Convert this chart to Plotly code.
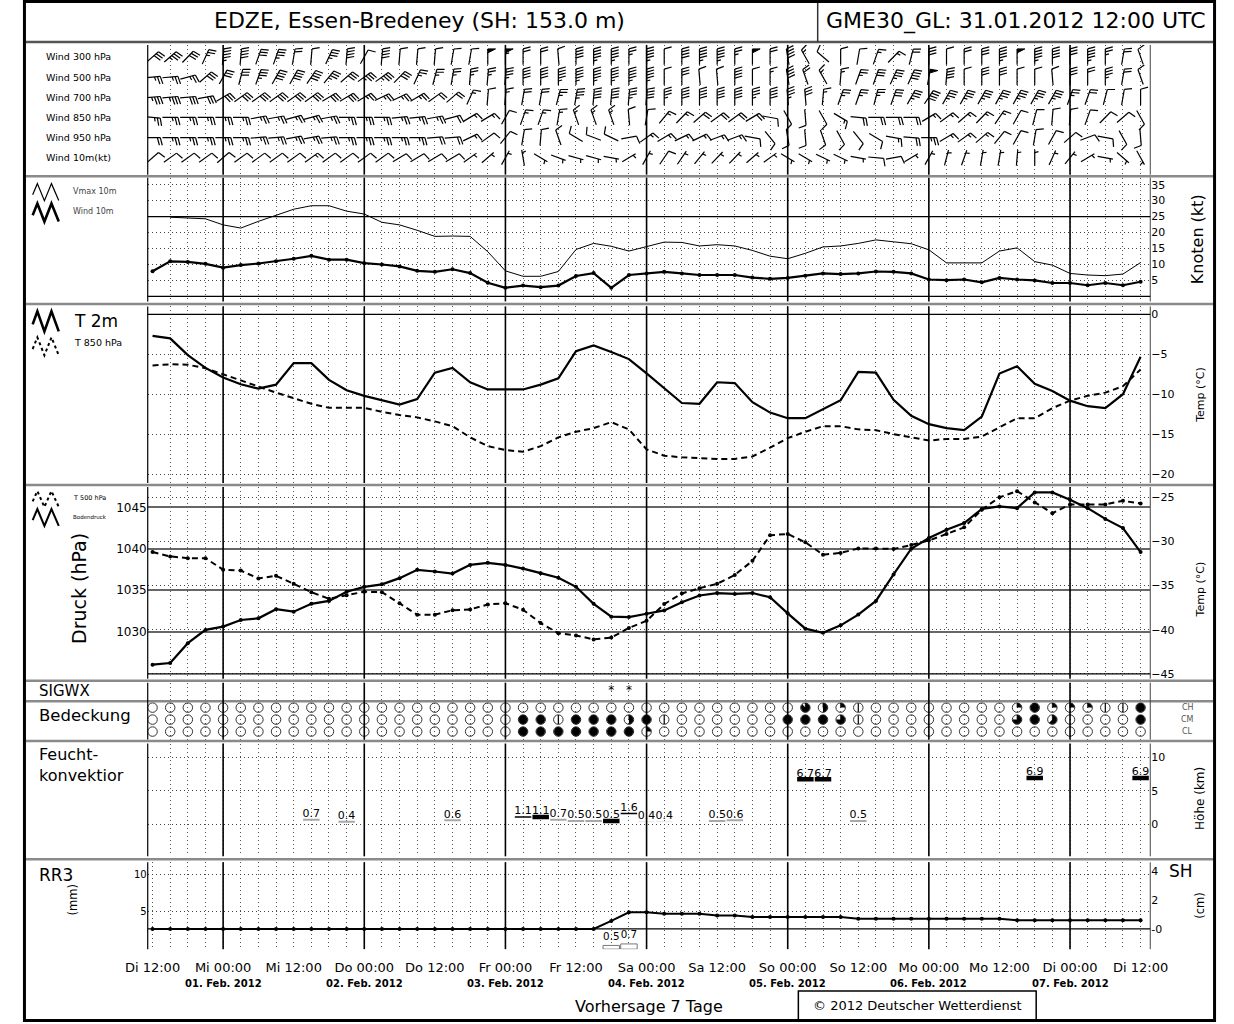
import math

import plotly.graph_objects as go

W, H = 1234, 1024
FONT = "DejaVu Sans"

# forecast steps: hours after Di 31.01.2012 12:00 UTC
hours = [0, 3, 6, 9, 12, 15, 18, 21, 24, 27, 30, 33, 36, 39, 42, 45, 48, 51, 54, 57,
         60, 63, 66, 69, 72, 75, 78, 81, 84, 87, 90, 93, 96, 99, 102, 105, 108, 111,
         114, 117, 120, 123, 126, 129, 132, 135, 138, 141, 144, 147, 150, 153, 156,
         159, 162, 165, 168]
tick_hours = [0, 12, 24, 36, 48, 60, 72, 84, 96, 108, 120, 132, 144, 156, 168]
tick_text = ["Di 12:00", "Mi 00:00", "Mi 12:00", "Do 00:00", "Do 12:00", "Fr 00:00",
             "Fr 12:00", "Sa 00:00", "Sa 12:00", "So 00:00", "So 12:00", "Mo 00:00",
             "Mo 12:00", "Di 00:00", "Di 12:00"]
midnight_hours = [12, 36, 60, 84, 108, 132, 156]
date_text = ["01. Feb. 2012", "02. Feb. 2012", "03. Feb. 2012", "04. Feb. 2012",
             "05. Feb. 2012", "06. Feb. 2012", "07. Feb. 2012"]

# wind barbs (direction deg, speed kt)
dir300 = [50, 50, 45, 25, 5, 5, 20, 20, 10, 5, 25, 5, 30, 5, 5, 5, 5, 10, 10, 0,
          0, 0, 0, 355, 0, 0, 0, 0, 0, 0, 0, 0, 0, 0, 0, 0, 350, 330, 310, 0,
          10, 20, 45, 15, 0, 0, 0, 0, 0, 0, 0, 0, 0, 0, 0, 10, 340]
spd300 = [30, 35, 30, 25, 45, 40, 30, 35, 20, 10, 35, 40, 10, 40, 10, 10, 10, 10, 10, 50,
          55, 20, 20, 10, 40, 45, 45, 25, 45, 10, 40, 45, 45, 25, 50, 20, 40, 15, 10, 10,
          10, 15, 15, 20, 30, 10, 20, 30, 45, 50, 45, 40, 30, 45, 25, 20, 10]
dir500 = [85, 85, 75, 50, 30, 15, 20, 30, 30, 35, 40, 50, 55, 55, 45, 25, 15, 10, 5, 5,
          5, 0, 0, 0, 0, 0, 0, 0, 0, 0, 0, 355, 355, 0, 0, 0, 350, 340, 330, 5,
          20, 20, 25, 25, 10, 5, 0, 0, 0, 0, 0, 355, 0, 0, 0, 10, 340]
spd500 = [25, 25, 25, 30, 30, 30, 35, 40, 40, 40, 35, 30, 35, 35, 30, 25, 25, 25, 25, 25,
          35, 40, 40, 45, 45, 45, 45, 45, 45, 10, 30, 10, 10, 40, 10, 15, 40, 20, 15, 15,
          25, 30, 35, 40, 50, 40, 10, 30, 30, 10, 10, 10, 30, 20, 35, 20, 10]
dir700 = [85, 85, 85, 80, 60, 55, 55, 55, 55, 55, 60, 60, 60, 65, 65, 60, 55, 50, 25, 5,
          5, 10, 10, 15, 10, 5, 5, 5, 5, 0, 0, 0, 0, 0, 0, 0, 355, 355, 5, 20,
          20, 15, 20, 30, 35, 30, 30, 30, 30, 30, 30, 30, 20, 20, 15, 10, 0]
spd700 = [35, 35, 30, 30, 30, 30, 30, 30, 30, 30, 30, 30, 25, 25, 25, 25, 20, 20, 15, 10,
          15, 20, 20, 25, 35, 40, 40, 35, 40, 35, 40, 40, 40, 40, 35, 40, 35, 30, 15, 25,
          25, 25, 30, 35, 40, 35, 35, 35, 35, 35, 35, 35, 25, 20, 10, 10, 10]
dir850 = [95, 90, 90, 90, 90, 90, 80, 80, 75, 75, 80, 90, 90, 90, 85, 85, 80, 75, 60, 60,
          30, 20, 20, 10, 340, 340, 340, 355, 10, 40, 45, 50, 55, 55, 60, 100, 150, 175, 150, 120,
          95, 90, 90, 90, 60, 55, 50, 45, 35, 30, 15, 5, 5, 20, 45, 50, 150]
spd850 = [25, 25, 25, 25, 25, 25, 25, 25, 25, 25, 25, 25, 25, 25, 25, 25, 25, 20, 15, 15,
          10, 15, 15, 15, 15, 15, 15, 10, 10, 15, 15, 20, 20, 20, 20, 10, 10, 10, 10, 15,
          20, 20, 20, 20, 15, 15, 15, 15, 15, 10, 10, 10, 10, 10, 10, 10, 10]
dir950 = [90, 90, 90, 90, 90, 90, 85, 85, 80, 80, 85, 90, 90, 90, 90, 90, 85, 85, 65, 55,
          40, 10, 5, 340, 300, 290, 295, 80, 55, 60, 65, 65, 70, 70, 100, 140, 170, 175, 160, 150,
          140, 120, 100, 95, 90, 60, 55, 50, 40, 30, 10, 30, 50, 70, 100, 150, 175]
spd950 = [20, 25, 25, 25, 25, 25, 25, 25, 25, 25, 25, 25, 25, 25, 25, 25, 20, 20, 15, 10,
          10, 10, 10, 10, 10, 10, 10, 10, 15, 15, 15, 15, 15, 15, 10, 10, 10, 10, 10, 10,
          10, 10, 15, 20, 25, 15, 15, 15, 10, 10, 10, 10, 10, 10, 10, 10, 10]
dir10m = [50, 55, 55, 55, 50, 55, 55, 55, 55, 55, 55, 55, 55, 55, 60, 60, 60, 60, 55, 50,
          30, 350, 120, 110, 105, 105, 100, 60, 30, 35, 35, 40, 45, 45, 50, 55, 120, 120, 115, 115,
          100, 95, 80, 60, 30, 15, 20, 10, 10, 5, 0, 25, 40, 60, 100, 130, 150]

# 10 m wind and gusts (kt)
wind10 = [7.9, 11.0, 10.8, 10.2, 9.0, 9.8, 10.3, 11.0, 11.8, 12.7, 11.5, 11.5, 10.4, 10.0,
          9.4, 8.0, 7.7, 8.5, 7.3, 4.3, 2.7, 3.4, 2.9, 3.4, 6.4, 7.3, 2.7, 6.7, 7.2, 7.7,
          7.2, 6.7, 6.7, 6.7, 5.9, 5.5, 5.8, 6.5, 7.2, 7.0, 7.2, 7.8, 7.7, 7.2, 5.3, 5.1,
          5.3, 4.4, 5.8, 5.3, 5.0, 4.2, 4.2, 3.5, 4.2, 3.5, 4.6]
vmax10 = [None, 24.8, 24.5, 24.3, 22.4, 21.4, 23.5, 25.3, 27.3, 28.4, 28.4, 26.7, 25.8,
          23.2, 22.4, 20.7, 18.8, 18.9, 18.8, 14.0, 8.0, 6.3, 6.3, 7.8, 14.7, 16.6, 15.7,
          14.2, 15.6, 17.0, 16.9, 15.8, 16.2, 15.8, 14.4, 12.6, 11.8, 13.5, 15.5, 15.8,
          16.6, 17.7, 17.1, 16.5, 14.6, 10.5, 10.5, 10.5, 14.2, 15.2, 10.9, 9.8, 7.2, 6.7,
          6.5, 7.0, 10.6]

# temperatures (deg C)
t2m = [-2.7, -3.0, -5.1, -6.7, -7.9, -8.75, -9.3, -8.8, -6.1, -6.1, -8.2, -9.5, -10.2,
       -10.75, -11.3, -10.6, -7.3, -6.7, -8.5, -9.4, -9.4, -9.4, -8.8, -8.0, -4.6, -3.9,
       -4.7, -5.6, -7.4, -9.25, -11.1, -11.2, -8.5, -8.6, -11.0, -12.3, -13.0, -13.0,
       -11.9, -10.75, -7.2, -7.3, -10.7, -12.7, -13.75, -14.25, -14.5, -12.8, -7.4, -6.5,
       -8.7, -9.6, -10.8, -11.5, -11.75, -10.0, -5.3]
t850 = [-6.4, -6.25, -6.3, -6.75, -7.5, -8.3, -9.0, -9.8, -10.5, -11.2, -11.7, -11.7,
        -11.7, -12.2, -12.6, -12.9, -13.4, -14.0, -15.4, -16.5, -17.0, -17.2, -16.5, -15.4,
        -14.7, -14.25, -13.5, -14.4, -16.9, -17.7, -17.9, -18.0, -18.1, -18.1, -17.8,
        -16.7, -15.5, -14.7, -14.0, -14.0, -14.4, -14.5, -15.0, -15.4, -15.8, -15.6, -15.6,
        -15.3, -14.1, -13.0, -13.0, -11.75, -10.8, -10.2, -9.8, -9.0, -6.9]

# surface pressure (hPa) and 500 hPa temperature (deg C)
pres = [1026.0, 1026.2, 1028.6, 1030.2, 1030.6, 1031.4, 1031.6, 1032.7, 1032.4, 1033.35,
        1033.7, 1034.8, 1035.4, 1035.7, 1036.45, 1037.45, 1037.25, 1037.0, 1038.05, 1038.3,
        1038.05, 1037.6, 1037.05, 1036.5, 1035.4, 1033.35, 1031.8, 1031.75, 1032.15,
        1032.55, 1033.55, 1034.35, 1034.65, 1034.55, 1034.65, 1034.15, 1032.2, 1030.35,
        1029.85, 1030.75, 1032.05, 1033.7, 1036.9, 1040.0, 1041.3, 1042.3, 1043.1, 1044.8,
        1045.1, 1044.9, 1046.8, 1046.8, 1045.9, 1044.9, 1043.6, 1042.5, 1039.6]
t500 = [-31.2, -31.7, -31.9, -31.9, -33.2, -33.3, -34.2, -33.9, -34.8, -35.75, -36.5,
        -36.1, -35.7, -35.75, -37.0, -38.3, -38.3, -37.8, -37.7, -37.15, -37.0, -37.75,
        -39.25, -40.4, -40.65, -41.1, -40.9, -39.8, -39.0, -37.1, -35.9, -35.3, -34.8,
        -33.8, -32.2, -29.3, -29.15, -30.1, -31.5, -31.3, -30.8, -30.8, -30.85, -30.4,
        -29.9, -29.15, -28.4, -26.4, -25.0, -24.3, -25.6, -26.8, -25.8, -25.8, -25.8,
        -25.4, -25.7]

# significant weather and cloud cover (octas) for high / middle / low clouds
sigwx_steps = [26, 27]
sigwx_symbols = ["*", "*"]
cover_ch = [0, 0, 0, 0, 0, 0, 0, 0, 0, 0, 0, 0, 0, 0, 0, 0, 0, 0, 0, 0,
            0, 0, 0, 0, 0, 0, 0, 0, 0, 0, 0, 0, 0, 0, 0, 0, 0, 7, 4, 2,
            1, 0, 0, 0, 0, 0, 0, 0, 0, 2, 8, 2, 2, 2, 1, 1, 8]
cover_cm = [0, 0, 0, 0, 0, 0, 0, 0, 0, 0, 0, 0, 0, 0, 0, 0, 0, 0, 0, 0,
            0, 8, 8, 1, 8, 8, 8, 4, 8, 1, 0, 0, 0, 0, 0, 0, 8, 8, 8, 6,
            1, 0, 0, 0, 0, 0, 0, 0, 0, 6, 8, 5, 0, 0, 0, 0, 8]
cover_cl = [0, 0, 0, 0, 0, 0, 0, 0, 0, 0, 0, 0, 0, 0, 0, 0, 0, 0, 0, 0,
            0, 8, 8, 8, 8, 8, 8, 8, 2, 0, 0, 0, 0, 0, 0, 0, 0, 0, 0, 0,
            0, 0, 0, 0, 0, 0, 0, 0, 0, 0, 0, 0, 0, 0, 0, 0, 0]

# moist convection: step index, cloud top height (km), intensity class
conv_steps = [9, 11, 17, 21, 22, 23, 24, 25, 26, 27, 28, 29, 32, 33, 37, 38, 40, 50, 56]
conv_top = [0.7, 0.4, 0.6, 1.1, 1.1, 0.7, 0.5, 0.5, 0.5, 1.6, 0.4, 0.4, 0.5, 0.6, 6.7,
            6.7, 0.5, 6.9, 6.9]
conv_class = [1, 1, 1, 2, 3, 1, 1, 1, 3, 2, 0, 0, 1, 1, 3, 3, 1, 3, 3]

# 3 h precipitation (mm) and snow height (cm)
rr3 = [0, 0, 0, 0, 0, 0, 0, 0, 0, 0, 0, 0, 0, 0, 0, 0, 0, 0, 0, 0,
       0, 0, 0, 0, 0, 0, 0.5, 0.7, 0, 0, 0, 0, 0, 0, 0, 0, 0, 0, 0, 0,
       0, 0, 0, 0, 0, 0, 0, 0, 0, 0, 0, 0, 0, 0, 0, 0, 0]
snow = [0, 0, 0, 0, 0, 0, 0, 0, 0, 0, 0, 0, 0, 0, 0, 0, 0, 0, 0, 0,
        0, 0, 0, 0, 0, 0, 0.55, 1.15, 1.15, 1.05, 1.05, 1.05, 0.93, 0.93, 0.82, 0.82,
        0.82, 0.82, 0.82, 0.82, 0.7, 0.7, 0.7, 0.7, 0.7, 0.7, 0.7, 0.7, 0.7, 0.6, 0.6,
        0.6, 0.6, 0.6, 0.6, 0.6, 0.6]

# ---------------------------------------------------------------- geometry
PLOT_X0, PLOT_X1 = 129, 1166
HOUR0_PX = 134
PX_PER_H = 146 / 24
x_range = [(PLOT_X0 - HOUR0_PX) / PX_PER_H, (PLOT_X1 - HOUR0_PX) / PX_PER_H]

PANELS = {
    "barbs": (45, 175), "wind": (178, 302), "temp": (307, 484), "press": (488, 680),
    "cloud": (684, 741), "conv": (745, 858), "rain": (864, 951),
}
ROW_PX = 20.2
CLOUD_PX = 12


def xp(px):
    return px / W


def yp(py):
    return 1 - py / H


def ydomain(name):
    top, bottom = PANELS[name]
    return [yp(bottom), yp(top)]


def vrange(name, ref_px, ref_val, ppu):
    top, bottom = PANELS[name]
    return [ref_val - (bottom - ref_px) / ppu, ref_val + (ref_px - top) / ppu]


def barb_geometry():
    lx, ly, fx, fy = [], [], [], []
    levels = [(5, dir300, spd300), (4, dir500, spd500), (3, dir700, spd700),
              (2, dir850, spd850), (1, dir950, spd950), (0, dir10m, wind10)]
    staff, feather, step, tilt = 16, 8, 3, math.radians(15)
    tip = staff / 2
    for row, dirs, spds in levels:
        for h, d, s in zip(hours, dirs, spds):
            a = math.radians(d)
            ux, uy = math.sin(a), math.cos(a)
            sx, sy = math.cos(a), -math.sin(a)

            def pt(al, sd):
                return (h + (al * ux + sd * sx) / PX_PER_H,
                        row + (al * uy + sd * sy) / ROW_PX)

            for p in (pt(-tip, 0), pt(tip, 0)):
                lx.append(p[0]); ly.append(p[1])
            lx.append(None); ly.append(None)
            n = int(round(s / 5))
            n50, rest = divmod(n, 10)
            n10, n5 = divmod(rest, 2)
            pos = 0
            for _ in range(n50):
                for p in (pt(tip - pos, 0), pt(tip - pos, feather), pt(tip - pos - 4, 0)):
                    fx.append(p[0]); fy.append(p[1])
                fx.append(None); fy.append(None)
                pos += 5
            for _ in range(n10):
                for p in (pt(tip - pos, 0),
                          pt(tip - pos + feather * math.sin(tilt), feather * math.cos(tilt))):
                    lx.append(p[0]); ly.append(p[1])
                lx.append(None); ly.append(None)
                pos += step
            if n5:
                if pos == 0:
                    pos = step
                half = feather / 2
                for p in (pt(tip - pos, 0),
                          pt(tip - pos + half * math.sin(tilt), half * math.cos(tilt))):
                    lx.append(p[0]); ly.append(p[1])
                lx.append(None); ly.append(None)
    return lx, ly, fx, fy


def cloud_geometry():
    ox, oy, wx, wy, vx, vy = [], [], [], [], [], []
    r = 4.3
    for row, octas in ((2, cover_ch), (1, cover_cm), (0, cover_cl)):
        for h, o in zip(hours, octas):
            ox.append(h); oy.append(row)
            if o == 1:
                vx += [h, h, None]
                vy += [row + r / CLOUD_PX, row - r / CLOUD_PX, None]
            elif o >= 2:
                frac = o / 8
                n = max(4, int(36 * frac))
                if o < 8:
                    wx.append(h); wy.append(row)
                for k in range(n + 1):
                    ang = math.radians(90 - 360 * frac * k / n)
                    wx.append(h + r * math.cos(ang) / PX_PER_H)
                    wy.append(row + r * math.sin(ang) / CLOUD_PX)
                wx.append(None); wy.append(None)
    return ox, oy, wx, wy, vx, vy


fig = go.Figure()

# wind barbs
bx, by, px_, py_ = barb_geometry()
fig.add_trace(go.Scatter(x=bx, y=by, mode="lines", line=dict(color="black", width=1.2),
                         xaxis="x", yaxis="y", hoverinfo="skip"))
fig.add_trace(go.Scatter(x=px_, y=py_, mode="lines", fill="toself", fillcolor="black",
                         line=dict(color="black", width=1), xaxis="x", yaxis="y",
                         hoverinfo="skip"))

# 10 m wind
fig.add_trace(go.Scatter(x=hours, y=vmax10, mode="lines", line=dict(color="black", width=1),
                         xaxis="x2", yaxis="y2"))
fig.add_trace(go.Scatter(x=hours, y=wind10, mode="lines+markers",
                         line=dict(color="black", width=2.2), marker=dict(size=4, color="black"),
                         xaxis="x2", yaxis="y2"))

# temperatures
fig.add_trace(go.Scatter(x=hours, y=t850, mode="lines",
                         line=dict(color="black", width=2, dash="6px,4px"),
                         xaxis="x3", yaxis="y3"))
fig.add_trace(go.Scatter(x=hours, y=t2m, mode="lines", line=dict(color="black", width=2.2),
                         xaxis="x3", yaxis="y3"))

# pressure and T500
fig.add_trace(go.Scatter(x=hours, y=t500, mode="lines+markers",
                         line=dict(color="black", width=2, dash="6px,4px"),
                         marker=dict(size=4, color="black"), xaxis="x4", yaxis="y5"))
fig.add_trace(go.Scatter(x=hours, y=pres, mode="lines+markers",
                         line=dict(color="black", width=2.2), marker=dict(size=4, color="black"),
                         xaxis="x4", yaxis="y4"))

# cloud cover and sigwx
ox, oy, wx, wy, vx, vy = cloud_geometry()
fig.add_trace(go.Scatter(x=ox, y=oy, mode="markers",
                         marker=dict(symbol="circle-open", size=9.5, color="#333",
                                     line=dict(color="#333", width=1)),
                         xaxis="x5", yaxis="y6"))
fig.add_trace(go.Scatter(x=wx, y=wy, mode="lines", fill="toself", fillcolor="black",
                         line=dict(color="black", width=0.8), xaxis="x5", yaxis="y6"))
fig.add_trace(go.Scatter(x=vx, y=vy, mode="lines", line=dict(color="black", width=1.2),
                         xaxis="x5", yaxis="y6"))
fig.add_trace(go.Scatter(x=[hours[i] for i in sigwx_steps], y=[3.42] * len(sigwx_steps),
                         mode="text", text=sigwx_symbols,
                         textfont=dict(family=FONT, size=12, color="black"),
                         xaxis="x5", yaxis="y6"))

# moist convection
conv_styles = {0: ("#e6e6e6", 1), 1: ("#a8a8a8", 2), 2: ("black", 1.5), 3: ("black", 4.5)}
for cls, (col, wid) in conv_styles.items():
    sx, sy = [], []
    for i, top, c in zip(conv_steps, conv_top, conv_class):
        if c == cls:
            sx += [hours[i] - 1.4, hours[i] + 1.4, None]
            sy += [top, top, None]
    fig.add_trace(go.Scatter(x=sx, y=sy, mode="lines", line=dict(color=col, width=wid),
                             xaxis="x6", yaxis="y7"))
fig.add_trace(go.Scatter(x=[hours[i] for i in conv_steps], y=conv_top, mode="text",
                         text=[f"{v:.1f}" for v in conv_top], textposition="top center",
                         textfont=dict(family=FONT, size=11, color="black"),
                         cliponaxis=False, xaxis="x6", yaxis="y7"))

# precipitation and snow height
rain_x = [h for h, v in zip(hours, rr3) if v > 0]
rain_y = [v for v in rr3 if v > 0]
fig.add_trace(go.Bar(x=rain_x, y=rain_y, width=2.8, marker=dict(color="white",
                     line=dict(color="#777", width=1)), texttemplate="%{y:.1f}",
                     textposition="outside", textfont=dict(family=FONT, size=11, color="black"),
                     cliponaxis=False, xaxis="x7", yaxis="y8"))
fig.add_trace(go.Scatter(x=hours, y=snow, mode="lines+markers",
                         line=dict(color="black", width=2), marker=dict(size=4, color="black"),
                         xaxis="x7", yaxis="y9"))

# ---------------------------------------------------------------- axes
minor_grid = dict(tickmode="linear", tick0=0, dtick=3, showgrid=True,
                  griddash="1px,3px", gridcolor="#555", gridwidth=1)
yanchor_of = {"x": "y", "x2": "y2", "x3": "y3", "x4": "y4", "x5": "y6", "x6": "y7", "x7": "y8"}
layout_axes = {}
for xname, yname in yanchor_of.items():
    key = "xaxis" if xname == "x" else "xaxis" + xname[1:]
    layout_axes[key] = dict(domain=[xp(PLOT_X0), xp(PLOT_X1)], range=x_range, anchor=yname,
                            showgrid=False, zeroline=False, showticklabels=False, ticks="",
                            showline=False, minor=minor_grid)
layout_axes["xaxis7"].update(showticklabels=True, tickmode="array", tickvals=tick_hours,
                             ticktext=tick_text, ticklabelstandoff=9,
                             tickfont=dict(family=FONT, size=13, color="black"))

dotted = dict(showgrid=True, griddash="1px,3px", gridcolor="#444", gridwidth=1)
tickf = dict(family=FONT, size=11, color="black")
common_y = dict(zeroline=False, showline=False, ticks="", tickfont=tickf)
layout_axes["yaxis"] = dict(common_y, domain=ydomain("barbs"), anchor="x",
                            range=vrange("barbs", 158, 0, ROW_PX), showticklabels=False,
                            showgrid=False)
layout_axes["yaxis2"] = dict(common_y, domain=ydomain("wind"), anchor="x2", side="right",
                             range=vrange("wind", 297, 0, 3.2),
                             tickvals=[5, 10, 15, 20, 25, 30, 35], **dotted)
layout_axes["yaxis3"] = dict(common_y, domain=ydomain("temp"), anchor="x3", side="right",
                             range=vrange("temp", 315, 0, 8),
                             tickvals=[0, -5, -10, -15, -20], **dotted)
layout_axes["yaxis4"] = dict(common_y, domain=ydomain("press"), anchor="x4", side="left",
                             range=vrange("press", 508.3, 1045, 8.3),
                             tickvals=[1030, 1035, 1040, 1045], showgrid=True,
                             gridcolor="#666", gridwidth=1.5,
                             tickfont=dict(family=FONT, size=12, color="black"))
layout_axes["yaxis5"] = dict(common_y, anchor="x4", overlaying="y4", side="right",
                             range=vrange("press", 498.3, -25, 8.84),
                             tickvals=[-25, -30, -35, -40, -45], **dotted)
layout_axes["yaxis6"] = dict(common_y, domain=ydomain("cloud"), anchor="x5",
                             range=vrange("cloud", 733, 0, CLOUD_PX), showticklabels=False,
                             showgrid=False)
layout_axes["yaxis7"] = dict(common_y, domain=ydomain("conv"), anchor="x6", side="right",
                             range=vrange("conv", 826, 0, 6.74), tickvals=[0, 5, 10], **dotted)
layout_axes["yaxis8"] = dict(common_y, domain=ydomain("rain"), anchor="x7", side="left",
                             range=vrange("rain", 951, 0, 7.46), tickvals=[5, 10],
                             tickfont=dict(family=FONT, size=10, color="black"), **dotted)
layout_axes["yaxis9"] = dict(common_y, anchor="x7", overlaying="y8", side="right",
                             range=vrange("rain", 930.7, 0, 14.5), tickvals=[0, 2, 4],
                             ticktext=["-0", "2", "4"], showgrid=False)

# ---------------------------------------------------------------- frame and decorations
shapes = []


def line_px(x0, y0, x1, y1, color="black", width=1.0, dash=None):
    shapes.append(dict(type="line", xref="paper", yref="paper", x0=xp(x0), y0=yp(y0),
                       x1=xp(x1), y1=yp(y1), line=dict(color=color, width=width, dash=dash)))


for y in (176.5, 304.5, 486, 682, 702.5, 742.5, 861):
    line_px(3, y, 1231, y, color="#8a8a8a", width=2.5)
line_px(3, 42, 1231, 42, color="#555", width=2.5)
line_px(822, 2, 822, 42, color="#333", width=1.5)
shapes.append(dict(type="rect", xref="paper", yref="paper", x0=xp(1.5), y0=yp(1.5),
                   x1=xp(1232.5), y1=yp(1022.5), line=dict(color="black", width=3)))
shapes.append(dict(type="rect", xref="paper", yref="paper", x0=xp(802), y0=yp(993),
                   x1=xp(1048), y1=yp(1022), line=dict(color="black", width=1.5)))

for name, (top, bottom) in PANELS.items():
    line_px(PLOT_X0, top, PLOT_X0, bottom, width=1.2)
    line_px(PLOT_X1, top, PLOT_X1, bottom, color="#444", width=1)
    for h in midnight_hours:
        shapes.append(dict(type="line", xref="x", yref="paper", x0=h, x1=h, y0=yp(top),
                           y1=yp(bottom), line=dict(color="black", width=1.6)))

for yref, val in (("y2", 0), ("y2", 25), ("y3", 0), ("y5", -45), ("y9", 0)):
    shapes.append(dict(type="line", xref="paper", yref=yref, x0=xp(PLOT_X0), x1=xp(PLOT_X1),
                       y0=val, y1=val, line=dict(color="black", width=1.3)))

ZIG = [(0, 0.65), (0.18, 0), (0.45, 1), (0.72, 0), (1.0, 1)]


def zigzag(x0, y0, w, h, width, dash=None):
    path = "M " + " L ".join(f"{xp(x0 + fx * w):.5f},{yp(y0 + fy * h):.5f}" for fx, fy in ZIG)
    shapes.append(dict(type="path", xref="paper", yref="paper", path=path,
                       line=dict(color="black", width=width, dash=dash)))


zigzag(10, 184, 27, 17, 1.2)
zigzag(10, 204, 27, 18, 2.6)
zigzag(10, 312, 27, 20, 2.6)
zigzag(10, 338, 27, 18, 2, dash="3px,3px")
zigzag(10, 492, 27, 16, 2, dash="3px,3px")
zigzag(10, 510, 27, 17, 2)

annotations = []


def text_px(text, x, y, size, xanchor="left", angle=0, color="black", xref="paper",
            yref="paper"):
    annotations.append(dict(text=text, x=xp(x) if xref == "paper" else x,
                            y=yp(y) if yref == "paper" else y, xref=xref, yref=yref,
                            xanchor=xanchor, yanchor="middle", showarrow=False,
                            textangle=angle, align="left",
                            font=dict(family=FONT, size=size, color=color)))


text_px("EDZE, Essen-Bredeney (SH: 153.0 m)", 410, 21, 22, xanchor="center")
text_px("GME30_GL: 31.01.2012 12:00 UTC", 1027, 21, 22, xanchor="center")

wind_labels = ["Wind 300 hPa", "Wind 500 hPa", "Wind 700 hPa", "Wind 850 hPa",
               "Wind 950 hPa", "Wind 10m(kt)"]
for k, lab in enumerate(wind_labels):
    text_px(lab, 22, 5 - k, 9.5, yref="y")

text_px("Vmax 10m", 50, 192, 8, color="#444")
text_px("Wind 10m", 50, 212, 8, color="#444")
text_px("Knoten (kt)", 1215, 240, 16, xanchor="center", angle=-90)
text_px("T 2m", 51, 322, 17)
text_px("T 850 hPa", 51, 343, 9.5)
text_px("Temp (°C)", 1218, 396, 11, xanchor="center", angle=-90)
text_px("T 500 hPa", 50, 499, 6.5)
text_px("Bodendruck", 50, 518, 5.5)
text_px("Druck (hPa)", 58, 590, 19, xanchor="center", angle=-90)
text_px("Temp (°C)", 1218, 591, 11, xanchor="center", angle=-90)
text_px("SIGWX", 14, 692, 15)
text_px("Bedeckung", 14, 717, 16.5)
for k, lab in enumerate(["CH", "CM", "CL"]):
    text_px(lab, 1205, 2 - k, 8, xanchor="center", color="#555", yref="y6")
text_px("Feucht-<br>konvektior", 14, 766, 16)
text_px("Höhe (km)", 1218, 800, 12, xanchor="center", angle=-90)
text_px("RR3", 14, 877, 17)
text_px("(mm)", 52, 902, 11.5, xanchor="center", angle=-90)
text_px("SH", 1198, 873, 17, xanchor="center")
text_px("(cm)", 1218, 907, 11.5, xanchor="center", angle=-90)
for h, lab in zip(midnight_hours, date_text):
    annotations.append(dict(text="<b>" + lab + "</b>", x=h, y=yp(985), xref="x7",
                            yref="paper", xanchor="center", yanchor="middle",
                            showarrow=False, font=dict(family=FONT, size=10, color="black")))
text_px("Vorhersage 7 Tage", 647, 1008, 16, xanchor="center")
text_px("© 2012 Deutscher Wetterdienst", 925, 1007, 13, xanchor="center")

fig.update_layout(
    width=W, height=H,
    margin=dict(l=0, r=0, t=0, b=0),
    paper_bgcolor="white", plot_bgcolor="white",
    showlegend=False,
    font=dict(family=FONT, color="black"),
    shapes=shapes,
    annotations=annotations,
    **layout_axes
)

fig.write_html("out.html", config={"displayModeBar": False, "displaylogo": False},
               post_script="document.body.style.margin = '0px';")
